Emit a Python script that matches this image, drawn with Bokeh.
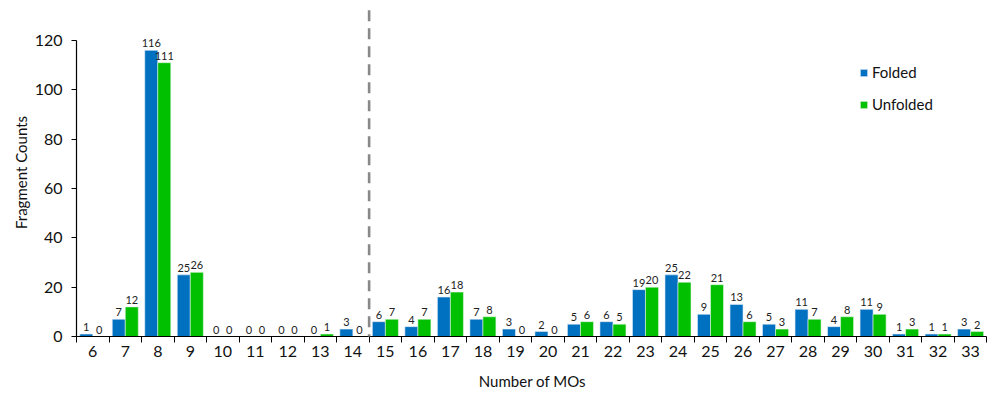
from bokeh.plotting import figure
from bokeh.models import ColumnDataSource, FixedTicker, Range1d, Legend, LegendItem, Arrow
from bokeh.core.properties import value
from bokeh.embed import file_html
from bokeh.resources import INLINE

mos = [6, 7, 8, 9, 10, 11, 12, 13, 14, 15, 16, 17, 18, 19, 20, 21, 22, 23, 24, 25, 26, 27, 28, 29, 30, 31, 32, 33]
folded = [1, 7, 116, 25, 0, 0, 0, 0, 3, 6, 4, 16, 7, 3, 2, 5, 6, 19, 25, 9, 13, 5, 11, 4, 11, 1, 1, 3]
unfolded = [0, 12, 111, 26, 0, 0, 0, 1, 0, 7, 7, 18, 8, 0, 0, 6, 5, 20, 22, 21, 6, 3, 7, 8, 9, 3, 1, 2]
series_names = ["Folded", "Unfolded"]
y_ticks = [0, 20, 40, 60, 80, 100, 120]
split_at = 14.5

BLUE = "#0070C0"
GREEN = "#00C000"
FONT = "Lato"

src = ColumnDataSource(dict(
    xf=[m - 0.2 for m in mos], xu=[m + 0.2 for m in mos],
    f=folded, u=unfolded,
    fl=[str(v) for v in folded], ul=[str(v) for v in unfolded],
))

p = figure(width=992, height=412, output_backend="svg", toolbar_location=None,
           x_range=Range1d(5.5, 33.55), y_range=Range1d(0, 132.97),
           min_border_left=76, min_border_right=4, min_border_top=8, min_border_bottom=76)
p.outline_line_color = None
p.xgrid.visible = False
p.ygrid.visible = False
p.background_fill_color = "white"
p.border_fill_color = "white"

rf = p.vbar(x="xf", top="f", width=0.4, source=src, fill_color=BLUE, line_color="#dfeaf5", line_width=0.6)
ru = p.vbar(x="xu", top="u", width=0.4, source=src, fill_color=GREEN, line_color="#dff5df", line_width=0.6)

p.text(x="xf", y="f", text="fl", source=src, text_align="center", text_baseline="bottom",
       y_offset=-3, text_font=value(FONT), text_font_size="11px", text_color="#222222")
p.text(x="xu", y="u", text="ul", source=src, text_align="center", text_baseline="bottom",
       y_offset=-3, text_font=value(FONT), text_font_size="11px", text_color="#222222")

# dashed divider
div = Arrow(x_start=split_at, y_start=-40, x_end=split_at, y_end=150, start=None, end=None,
            line_color="#888888", line_width=2.6, line_dash="11 7")
p.add_layout(div)

# x axis
xa = p.xaxis[0]
xa.ticker = FixedTicker(ticks=mos, minor_ticks=[m - 0.5 for m in mos] + [mos[-1] + 0.5])
xa.bounds = (5.5, 33.5)
xa.major_tick_line_color = None
xa.minor_tick_line_color = "black"
xa.minor_tick_out = 6
xa.minor_tick_in = 0
xa.axis_line_color = "black"
xa.axis_line_width = 1.2
xa.major_label_text_font = FONT
xa.major_label_text_font_size = "16px"
xa.major_label_text_color = "#111111"
xa.major_label_standoff = 3
xa.axis_label = "Number of MOs"
xa.axis_label_text_font = FONT
xa.axis_label_text_font_size = "15px"
xa.axis_label_text_font_style = "normal"
xa.axis_label_text_color = "#111111"
xa.axis_label_standoff = 12

ya = p.yaxis[0]
ya.ticker = FixedTicker(ticks=y_ticks)
ya.bounds = (0, 120)
ya.minor_tick_line_color = None
ya.major_tick_out = 5
ya.major_tick_in = 0
ya.axis_line_color = "black"
ya.axis_line_width = 1.2
ya.major_label_text_font = FONT
ya.major_label_text_font_size = "16px"
ya.major_label_text_color = "#111111"
ya.major_label_standoff = 9
ya.axis_label = "Fragment Counts"
ya.axis_label_text_font = FONT
ya.axis_label_text_font_size = "15px"
ya.axis_label_text_font_style = "normal"
ya.axis_label_text_color = "#111111"
ya.axis_label_standoff = 2

legend = Legend(items=[LegendItem(label=series_names[0], renderers=[rf]),
                       LegendItem(label=series_names[1], renderers=[ru])],
                location=(783, 223), glyph_width=9, glyph_height=9, label_standoff=4,
                spacing=14, padding=0, margin=0, background_fill_alpha=0, border_line_color=None,
                label_text_font=FONT, label_text_font_size="15px", label_text_color="#111111")
p.add_layout(legend)

open("out.html", "w").write(file_html(p, INLINE))
